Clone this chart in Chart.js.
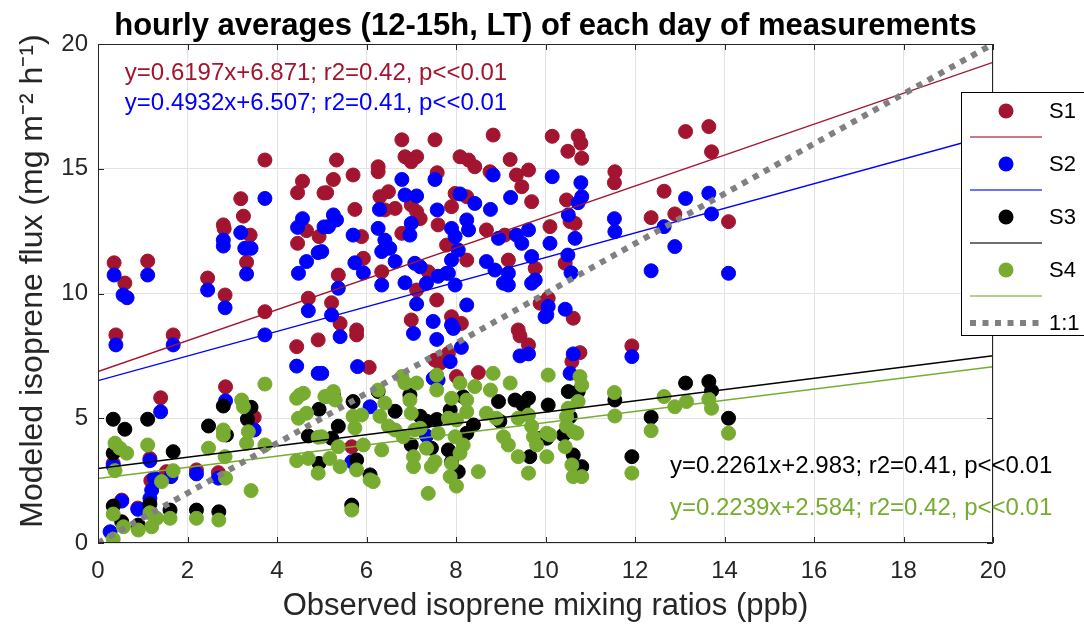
<!DOCTYPE html>
<html>
<head>
<meta charset="utf-8">
<script src="https://cdn.jsdelivr.net/npm/chart.js@4.4.0/dist/chart.umd.min.js"></script>
<style>
  html, body { margin: 0; padding: 0; background: #fff; }
</style>
</head>
<body>
<canvas id="fluxChart" width="1084" height="625"></canvas>
<script>
// series look
const seriesNames = ['S1', 'S2', 'S3', 'S4'];
const seriesColors = ['#A2142F', '#0000FF', '#000000', '#77AC30'];

// regression lines printed on the figure
const fitSlopes = [0.6197, 0.4932, 0.2261, 0.2239];
const fitIntercepts = [6.871, 6.507, 2.983, 2.584];
const fitR2 = [0.42, 0.41, 0.41, 0.42];

const xTicks = [0, 2, 4, 6, 8, 10, 12, 14, 16, 18, 20];
const yTicks = [0, 5, 10, 15, 20];

// observed mixing ratio (ppb) / modeled flux, one pair of arrays per scheme
const s1x = [0.36, 0.6, 1.11, 2.45, 2.84, 2.8, 2.82, 3.19, 3.25, 3.4, 3.32, 3.73, 3.73, 4.57, 4.46, 4.66, 4.46, 4.94, 4.7, 5.05,
  0.4, 1.68, 4.44, 4.92, 1.4, 2.85, 3.49, 0.34, 1.16, 1.53, 2.2, 2.69, 1.18, 0.53, 0.89,
  6.79, 7.53, 8.83, 5.33, 6.86, 7.12, 7.0, 6.26, 6.26, 5.7, 5.26, 5.11, 7.58, 8.09, 8.28, 8.42, 9.21, 8.76, 9.35, 9.62, 9.47, 9.69,
  6.3, 6.49, 6.64, 6.41, 7.0, 7.12, 7.2, 5.74, 7.9, 7.98, 8.24, 7.6, 6.79, 5.89, 7.79, 8.68, 9.09, 5.93, 9.17, 9.77, 8.24,
  5.37, 6.34, 7.38, 5.22, 7.12, 7.57, 7.0, 7.9, 5.41, 5.78, 8.12, 9.88, 9.39,
  5.78, 6.06, 7.53, 7.83, 7.64, 8.5, 9.43, 9.62, 8.01, 5.67,
  10.15, 10.73, 10.79, 10.5, 10.81, 13.13, 13.65, 13.71, 11.55, 11.54, 10.47, 10.1, 10.55, 10.66, 12.65, 12.36, 12.89, 14.09, 10.44, 10.06, 10.62,
  10.77, 10.59, 11.93];
const s1y = [11.23, 10.42, 11.3, 10.62, 9.94, 12.75, 12.6, 13.8, 13.1, 12.34, 11.25, 15.35, 9.27, 14.5, 14.04, 12.52, 12.01, 12.28, 9.81, 14.03,
  8.34, 8.34, 7.87, 8.14, 5.82, 6.26, 5.04, 3.19, 3.39, 2.86, 2.93, 2.82, 2.5, 1.72, 1.4,
  16.16, 16.16, 16.35, 15.35, 15.48, 15.48, 15.28, 15.08, 14.88, 14.75, 14.57, 14.04, 14.84, 15.48, 15.35, 15.08, 15.37, 14.88, 14.75, 14.95, 14.28, 13.68,
  13.88, 14.08, 13.41, 13.35, 13.55, 13.28, 13.0, 13.37, 13.48, 14.01, 13.88, 12.75, 12.41, 12.28, 11.94, 12.55, 12.34, 11.41, 11.34, 11.01, 11.34,
  10.74, 10.87, 10.87, 9.63, 10.14, 9.74, 8.94, 9.07, 8.8, 8.54, 8.8, 9.61, 8.54,
  8.34, 7.04, 7.33, 7.6, 7.2, 6.83, 8.3, 7.94, 6.67, 3.86,
  16.3, 16.31, 16.02, 15.7, 15.42, 16.49, 16.69, 15.68, 14.88, 14.44, 13.75, 12.68, 12.88, 12.81, 14.1, 13.04, 13.19, 12.88, 11.21, 9.81, 9.01,
  7.63, 7.27, 7.9];

const s2x = [0.36, 0.56, 0.65, 1.11, 2.45, 2.84, 2.8, 2.8, 3.19, 3.28, 3.42, 3.32, 3.73, 4.57, 4.46, 4.92, 4.66, 4.48, 4.7, 5.05,
  0.4, 1.68, 3.73, 4.44, 4.92, 1.4, 2.85, 3.49, 0.34, 1.16, 1.63, 2.2, 2.69, 1.26, 1.2, 1.16, 1.12, 0.53, 0.89, 0.27,
  6.79, 7.53, 8.83, 6.86, 7.12, 8.09, 8.42, 8.77, 9.22, 7.58, 6.29, 5.26, 5.33, 5.15, 6.26, 7.0, 6.97, 5.7, 7.9, 7.98, 8.24, 8.28,
  6.41, 6.52, 6.34, 8.05, 5.0, 6.64, 8.95, 9.35, 9.62, 9.47, 5.74, 5.93, 7.08, 7.2, 7.9, 7.83, 9.69, 8.68, 8.87, 9.17, 9.06, 9.17,
  9.77, 9.69, 5.37, 6.34, 6.86, 7.34, 7.6, 7.79, 7.98, 7.12, 8.24, 5.22, 7.49, 7.9, 7.94, 9.99,
  5.41, 7.05, 7.57, 5.8, 8.12, 7.87, 9.43, 9.62, 5.0, 7.49, 7.6, 6.08, 7.34, 5.67,
  10.15, 10.79, 10.81, 10.73, 10.51, 10.1, 10.66, 10.5, 10.57, 11.54, 11.55, 12.65, 13.13, 13.65, 13.71, 12.89, 12.36, 14.09, 10.06, 10.03, 10.44,
  10.62, 10.55, 11.93];
const s2y = [10.74, 9.94, 9.83, 10.74, 10.14, 9.43, 12.14, 11.9, 12.44, 11.81, 11.81, 10.78, 13.81, 13.0, 12.65, 11.64, 11.28, 10.81, 9.31, 12.67,
  7.94, 7.94, 8.34, 7.09, 6.8, 5.26, 5.7, 4.53, 3.1, 3.3, 2.66, 2.77, 2.6, 2.6, 2.12, 1.79, 1.45, 1.68, 1.35, 0.45,
  14.57, 14.57, 14.75, 13.95, 13.91, 13.99, 13.61, 13.37, 13.85, 13.35, 13.37, 13.15, 12.95, 12.68, 12.61, 12.81, 12.34, 12.34, 12.61, 12.28, 12.95, 12.55,
  12.14, 11.81, 11.68, 11.74, 11.68, 11.28, 12.21, 12.34, 12.55, 12.01, 11.23, 10.83, 11.21, 11.07, 11.34, 10.81, 11.48, 11.28, 10.94, 10.81, 10.41, 10.34,
  10.54, 10.41, 10.21, 10.34, 10.43, 10.41, 10.69, 10.81, 10.34, 9.58, 9.54, 9.14, 8.88, 8.74, 8.6, 9.07,
  8.27, 8.4, 8.16, 7.07, 7.84, 7.27, 7.5, 7.58, 6.8, 6.6, 6.53, 5.46, 4.29, 3.26,
  14.68, 14.44, 13.88, 13.64, 13.15, 12.01, 12.21, 11.54, 10.83, 13.0, 12.48, 12.68, 13.81, 14.02, 13.19, 11.88, 10.91, 10.81, 9.48, 9.14, 9.37,
  7.58, 6.8, 7.47];

const s3x = [2.8, 3.42, 0.34, 0.6, 1.11, 2.47, 2.87, 3.34, 1.68, 0.34, 4.7, 4.94, 4.94, 0.34, 1.16, 1.61, 2.2, 2.7, 0.53, 0.9,
  5.26, 5.7, 5.37, 5.22, 5.78, 6.08, 5.67, 6.26, 6.64, 6.97, 7.2, 7.34, 7.57, 7.0, 7.45, 7.87, 8.16, 7.83, 7.9, 8.05,
  8.24, 8.39, 8.95, 9.32, 9.62, 9.5, 8.98, 9.65, 9.88, 10.06,
  10.51, 10.73, 10.55, 10.4, 10.03, 10.62, 10.81, 11.55, 12.36, 11.93, 13.13, 13.65, 13.71, 14.09];
const s3y = [5.49, 5.44, 4.96, 4.56, 4.96, 4.69, 4.33, 4.96, 3.66, 3.6, 4.29, 5.36, 3.19, 1.48, 1.56, 1.32, 1.32, 1.25, 0.85, 0.72,
  5.93, 5.67, 4.68, 4.2, 3.33, 2.73, 1.52, 6.07, 5.28, 5.93, 5.08, 4.88, 4.95, 3.93, 3.8, 5.33, 5.86, 3.73, 3.26, 2.86,
  4.4, 4.73, 5.67, 5.73, 5.8, 5.53, 4.88, 3.46, 4.2, 5.53,
  6.07, 6.07, 5.06, 4.33, 4.2, 3.53, 3.06, 5.73, 5.04, 3.46, 6.41, 6.47, 6.1, 5.0];

const s4x = [3.73, 4.51, 4.59, 4.44, 3.21, 3.25, 4.48, 4.66, 2.8, 2.8, 3.36, 3.32, 3.73, 2.47, 2.84, 4.92, 4.44, 4.7, 4.92, 5.07,
  1.11, 0.38, 0.49, 0.64, 0.38, 1.68, 1.42, 2.85, 3.42, 0.34, 1.16, 1.31, 1.2, 1.61, 2.2, 2.7, 0.57, 0.9, 0.34,
  5.26, 5.11, 5.3, 5.7, 5.74, 5.89, 5.0, 5.37, 5.18, 5.41, 5.93, 5.78, 6.08, 6.15, 5.67, 6.34, 6.26, 6.41, 6.3, 6.49, 6.64,
  6.79, 6.86, 7.12, 6.97, 7.0, 6.82, 7.08, 7.2, 7.57, 7.57, 7.05, 7.34, 7.53, 7.45, 7.05, 7.38,
  7.9, 8.09, 8.24, 7.83, 8.01, 8.24, 7.6, 7.98, 8.16, 8.09, 7.9, 7.87, 8.01, 8.5, 8.42, 8.83, 8.77, 9.21, 8.68, 8.9,
  9.06, 9.17, 9.39, 9.62, 9.69, 9.73, 9.8, 9.39, 9.62, 10.03, 10.06, 10.03,
  10.77, 10.81, 10.73, 10.51, 10.47, 10.47, 10.62, 10.7, 10.1, 10.44, 10.59, 10.62, 10.81,
  11.54, 11.55, 12.36, 12.65, 12.89, 13.15, 13.65, 13.71, 14.09, 11.93];
const s4y = [6.37, 5.93, 6.0, 5.8, 5.73, 5.46, 5.0, 5.2, 4.53, 4.33, 4.46, 4.0, 3.93, 3.8, 3.46, 4.24, 3.3, 3.39, 2.8, 5.87,
  3.93, 4.0, 3.8, 3.6, 2.9, 2.9, 2.46, 2.6, 2.1, 1.16, 1.21, 0.99, 0.65, 0.99, 0.99, 0.92, 0.65, 0.52, 0.15,
  6.07, 5.87, 5.73, 5.08, 4.61, 5.13, 4.26, 3.86, 3.39, 3.06, 3.93, 2.93, 2.53, 2.46, 1.32, 3.73, 6.13, 5.61, 5.08, 4.68, 4.53,
  6.67, 6.41, 6.41, 5.73, 5.2, 4.26, 4.53, 4.6, 6.73, 6.13, 3.46, 3.8, 3.26, 3.06, 3.06, 1.99,
  5.8, 6.41, 5.73, 5.0, 4.93, 5.26, 4.4, 4.26, 3.93, 3.6, 3.19, 2.66, 2.28, 2.86, 6.27, 6.8, 6.13, 6.41, 5.2, 5.0,
  4.26, 3.93, 5.0, 5.13, 4.68, 4.26, 3.93, 3.46, 2.8, 3.46, 6.73, 4.4,
  6.67, 6.33, 5.67, 5.4, 5.06, 4.68, 4.46, 4.4, 4.33, 3.86, 3.13, 2.66, 2.66,
  6.03, 5.09, 4.5, 5.87, 5.46, 5.67, 5.76, 5.4, 4.4, 2.8];

const seriesX = [s1x, s2x, s3x, s4x];
const seriesY = [s1y, s2y, s3y, s4y];

const FONT = '"Liberation Sans", Arial, Helvetica, sans-serif';
const AXIS_COLOR = '#262626';

function pairs(xs, ys) {
  return xs.map((x, i) => ({ x: x, y: ys[i] }));
}

const datasets = [];

// 1:1 line on top of everything
datasets.push({
  label: '1:1',
  data: [{ x: 0, y: 0 }, { x: 20, y: 20 }],
  showLine: true,
  borderColor: '#808080',
  borderWidth: 6,
  borderDash: [6, 6.5],
  pointRadius: 0,
  order: 0
});

// fit lines
for (let i = 0; i < 4; i++) {
  datasets.push({
    label: seriesNames[i] + ' fit',
    data: [{ x: 0, y: fitIntercepts[i] }, { x: 20, y: fitSlopes[i] * 20 + fitIntercepts[i] }],
    showLine: true,
    borderColor: seriesColors[i],
    borderWidth: 1.4,
    pointRadius: 0,
    order: 1 + i
  });
}

// scatter, S4 drawn last (on top)
for (let i = 0; i < 4; i++) {
  datasets.push({
    label: seriesNames[i],
    data: pairs(seriesX[i], seriesY[i]),
    backgroundColor: seriesColors[i],
    borderColor: seriesColors[i],
    borderWidth: 1,
    pointRadius: 7,
    pointHoverRadius: 7,
    order: 8 - i
  });
}

const decorations = {
  id: 'decorations',
  afterDraw(chart) {
    const ctx = chart.ctx;
    const a = chart.chartArea;
    const xs = chart.scales.x, ys = chart.scales.y;
    ctx.save();

    // box and inward ticks
    ctx.strokeStyle = AXIS_COLOR;
    ctx.lineWidth = 1;
    ctx.beginPath();
    ctx.rect(a.left + 0.5, a.top + 0.5, a.right - a.left - 1, a.bottom - a.top - 1);
    xTicks.forEach(v => {
      const px = Math.round(xs.getPixelForValue(v)) + 0.5;
      ctx.moveTo(px, a.bottom); ctx.lineTo(px, a.bottom - 6);
      ctx.moveTo(px, a.top); ctx.lineTo(px, a.top + 6);
    });
    yTicks.forEach(v => {
      const py = Math.round(ys.getPixelForValue(v)) + 0.5;
      ctx.moveTo(a.left, py); ctx.lineTo(a.left + 6, py);
      ctx.moveTo(a.right, py); ctx.lineTo(a.right - 6, py);
    });
    ctx.stroke();

    // title
    ctx.fillStyle = '#000';
    ctx.font = 'bold 31px ' + FONT;
    ctx.textAlign = 'center';
    ctx.textBaseline = 'alphabetic';
    ctx.fillText('hourly averages (12-15h, LT) of each day of measurements', (a.left + a.right) / 2, 35);

    // y axis label (MATLAB centres it a bit above the axis middle)
    ctx.save();
    ctx.translate(33, 281);
    ctx.rotate(-Math.PI / 2);
    ctx.fillStyle = AXIS_COLOR;
    ctx.font = '32px ' + FONT;
    ctx.textBaseline = 'middle';
    ctx.fillText('Modeled isoprene flux (mg m\u207B\u00B2 h\u207B\u00B9)', 0, 0);
    ctx.restore();

    // regression equations
    const eqPos = [[0.6, 18.84], [0.6, 17.64], [12.78, 3.09], [12.78, 1.4]];
    ctx.font = '24px ' + FONT;
    ctx.textAlign = 'left';
    ctx.textBaseline = 'middle';
    for (let i = 0; i < 4; i++) {
      const txt = 'y=' + fitSlopes[i].toFixed(4) + 'x+' + fitIntercepts[i].toFixed(3) +
        '; r2=' + fitR2[i].toFixed(2) + ', p<<0.01';
      ctx.fillStyle = seriesColors[i];
      ctx.fillText(txt, xs.getPixelForValue(eqPos[i][0]), ys.getPixelForValue(eqPos[i][1]));
    }

    // legend box
    const lx = 961, ly = 92;
    ctx.fillStyle = '#fff';
    ctx.fillRect(lx, ly, 140, 243);
    ctx.strokeStyle = '#000';
    ctx.lineWidth = 1;
    ctx.strokeRect(lx + 0.5, ly + 0.5, 140, 243);
    ctx.font = '22px ' + FONT;
    ctx.textAlign = 'left';
    for (let i = 0; i < 4; i++) {
      const my = 111 + i * 53;
      ctx.fillStyle = seriesColors[i];
      ctx.beginPath();
      ctx.arc(1006, my, 7.5, 0, Math.PI * 2);
      ctx.fill();
      ctx.strokeStyle = seriesColors[i];
      ctx.globalAlpha = 0.75;
      ctx.lineWidth = 1.4;
      ctx.beginPath();
      ctx.moveTo(970, my + 26); ctx.lineTo(1042, my + 26);
      ctx.stroke();
      ctx.globalAlpha = 1;
      ctx.fillStyle = '#000';
      ctx.fillText(seriesNames[i], 1049, my + 1);
    }
    ctx.strokeStyle = '#808080';
    ctx.lineWidth = 6;
    ctx.setLineDash([6, 6.5]);
    ctx.beginPath();
    ctx.moveTo(970, 323); ctx.lineTo(1042, 323);
    ctx.stroke();
    ctx.setLineDash([]);
    ctx.fillStyle = '#000';
    ctx.fillText('1:1', 1049, 324);

    ctx.restore();
  }
};

new Chart(document.getElementById('fluxChart'), {
  type: 'scatter',
  data: { datasets: datasets },
  options: {
    responsive: false,
    animation: false,
    devicePixelRatio: 1,
    layout: { padding: { top: 44, right: 91, left: 0, bottom: 0 } },
    plugins: {
      legend: { display: false },
      tooltip: { enabled: false },
      title: { display: false }
    },
    scales: {
      x: {
        type: 'linear',
        min: 0, max: 20,
        afterFit: s => { s.height = 82; },
        afterBuildTicks: s => { s.ticks = xTicks.map(v => ({ value: v })); },
        border: { display: false },
        grid: { color: '#e3e3e3', drawTicks: false },
        ticks: { color: AXIS_COLOR, font: { family: FONT, size: 24 }, padding: 14, maxRotation: 0 },
        title: {
          display: true,
          text: 'Observed isoprene mixing ratios (ppb)',
          color: AXIS_COLOR,
          font: { family: FONT, size: 31 },
          padding: { top: 0, bottom: 0 }
        }
      },
      y: {
        type: 'linear',
        min: 0, max: 20,
        afterFit: s => { s.width = 98; },
        afterBuildTicks: s => { s.ticks = yTicks.map(v => ({ value: v })); },
        border: { display: false },
        grid: { color: '#e3e3e3', drawTicks: false },
        ticks: { color: AXIS_COLOR, font: { family: FONT, size: 24 }, padding: 10 },
        title: { display: false }
      }
    }
  },
  plugins: [decorations]
});
</script>
</body>
</html>
